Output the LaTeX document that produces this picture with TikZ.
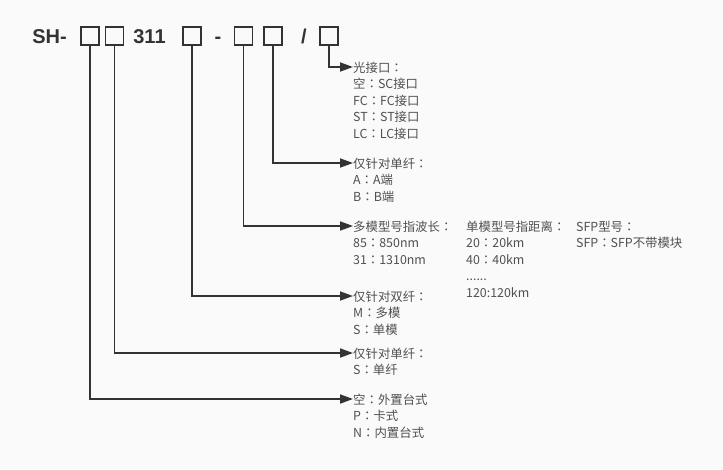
\documentclass[tikz,border=0pt]{standalone}
\usepackage{fontspec}
\setmainfont{Noto Sans CJK SC}
\newfontfamily\titlefont{Liberation Sans}
\newfontfamily\colonfont{Noto Sans CJK TC}
\newcommand{\cl}{{\colonfont ：}}
\usetikzlibrary{positioning,arrows.meta}
\definecolor{ink}{HTML}{333333}
\definecolor{txtgray}{HTML}{505050}
\definecolor{paper}{HTML}{FAFAFA}
\tikzset{
  box/.style={draw=ink,line width=1.8pt,minimum size=18pt,inner sep=0pt},
  title/.style={font=\titlefont\bfseries\fontsize{20}{24}\selectfont,text=ink,anchor=base,inner sep=0pt},
  txt/.style={font=\fontsize{12.4}{16}\selectfont,text=txtgray,inner sep=0pt,
    text height=13.5pt,text depth=2.5pt,anchor=west},
  item/.style={txt,anchor=north west},
  link/.style={draw=ink,line width=1.8pt,-{Triangle[length=13pt,width=9pt]}}
}
\begin{document}
\begin{tikzpicture}[x=1pt,y=-1pt]
        \fill[paper] (0,0) rectangle (723,469);
        \useasboundingbox (0,0) rectangle (723,469);
        % code line
        \node[title] (sh)  at (49.5,43.5) {SH-};
        \node[title] (num) at (149.5,43.5) {311};
        \node[title] (dash) at (218,43.5) {-};
        \node[title] (slash) at (304,43.5) {/};
        \draw (90,36)    node[box] (b1) {};
        \draw (114.5,36) node[box] (b2) {};
        \draw (192,36)   node[box] (b3) {};
        \draw (243.5,36) node[box] (b4) {};
        \draw (273,36)   node[box] (b5) {};
        \draw (329,36)   node[box] (b6) {};
        % explanations
        \node[txt] (g6) at (353,67) {光接口\cl};
        \node[item,below=0pt of g6.south west,anchor=north west] (g6a) {空\cl SC接口};
        \node[item,below=0pt of g6a.south west,anchor=north west] (g6b) {FC\cl FC接口};
        \node[item,below=0pt of g6b.south west,anchor=north west] (g6c) {ST\cl ST接口};
        \node[item,below=0pt of g6c.south west,anchor=north west] (g6d) {LC\cl LC接口};
        \node[txt] (g5) at (353,163) {仅针对单纤\cl};
        \node[item,below=0pt of g5.south west,anchor=north west] (g5a) {A\cl A端};
        \node[item,below=0pt of g5a.south west,anchor=north west] (g5b) {B\cl B端};
        \node[txt] (g4) at (353,226) {多模型号指波长\cl};
        \node[item,below=0pt of g4.south west,anchor=north west] (g4a) {85\cl 850nm};
        \node[item,below=0pt of g4a.south west,anchor=north west] (g4b) {31\cl 1310nm};
        \node[txt] (sm) at (466,226) {单模型号指距离\cl};
        \node[item,below=0pt of sm.south west,anchor=north west] (sma) {20\cl 20km};
        \node[item,below=0pt of sma.south west,anchor=north west] (smb) {40\cl 40km};
        \node[item,below=0pt of smb.south west,anchor=north west] (smc) {......};
        \node[item,below=0pt of smc.south west,anchor=north west] (smd) {120:120km};
        \node[txt] (sfp) at (576,226) {SFP型号\cl};
        \node[item,below=0pt of sfp.south west,anchor=north west] (sfpa) {SFP\cl SFP不带模块};
        \node[txt] (g3) at (353,296) {仅针对双纤\cl};
        \node[item,below=0pt of g3.south west,anchor=north west] (g3a) {M\cl 多模};
        \node[item,below=0pt of g3a.south west,anchor=north west] (g3b) {S\cl 单模};
        \node[txt] (g2) at (353,353) {仅针对单纤\cl};
        \node[item,below=0pt of g2.south west,anchor=north west] (g2a) {S\cl 单纤};
        \node[txt] (g1) at (353,399) {空\cl 外置台式};
        \node[item,below=0pt of g1.south west,anchor=north west] (g1a) {P\cl 卡式};
        \node[item,below=0pt of g1a.south west,anchor=north west] (g1b) {N\cl 内置台式};
        % connectors
        \draw[link] (b6.south) |- (g6.west);
        \draw[link] (b5.south) |- (g5.west);
        \draw[link] (b4.south) |- (g4.west);
        \draw[link] (b3.south) |- (g3.west);
        \draw[link] (b2.south) |- (g2.west);
        \draw[link] (b1.south) |- (g1.west);
\end{tikzpicture}
\end{document}
